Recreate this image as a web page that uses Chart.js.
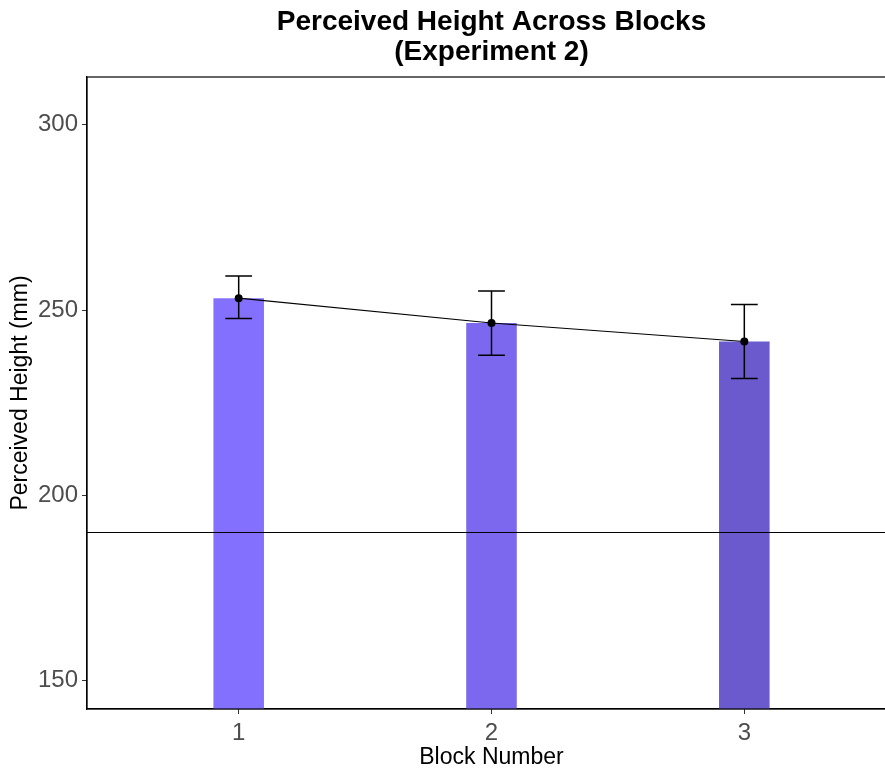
<!DOCTYPE html>
<html><head><meta charset="utf-8">
<script src="https://cdn.jsdelivr.net/npm/chart.js@4/dist/chart.umd.min.js"></script>
<style>
html,body{margin:0;padding:0;background:#fff;overflow:hidden;}
#wrap{width:900px;height:769px;position:relative;}
</style></head><body>
<div id="wrap"><canvas id="c"></canvas></div>
<script>
const blocks = ['1','2','3'];
const blockPositions = [1,2,3];
const meanHeight = [253.2, 246.5, 241.5];
const errorUpper = [259.2, 255.1, 251.5];
const errorLower = [247.7, 237.8, 231.5];
const barColors = ['#8470FF','#7B68EE','#6A5ACD'];
const yTickValues = [150,200,250,300];
const referenceHeight = 190;
const titleLines = ['Perceived Height Across Blocks','(Experiment 2)'];
const xTitle = 'Block Number';
const yTitle = 'Perceived Height (mm)';

const FONT = "'Liberation Sans', Arial, sans-serif";

const decor = {
  id: 'decor',
  afterDatasetDraw(chart, args) {
    if (args.index !== 0) return;
    const ctx = chart.ctx, xs = chart.scales.x, ys = chart.scales.y, a = chart.chartArea;
    ctx.save();
    ctx.strokeStyle = '#000'; ctx.lineWidth = 1.2;
    const yr = Math.round(ys.getPixelForValue(referenceHeight)) + 0.5;
    ctx.beginPath(); ctx.moveTo(a.left, yr); ctx.lineTo(a.right, yr); ctx.stroke();
    ctx.lineWidth = 1.5;
    blockPositions.forEach((p, i) => {
      const x = xs.getPixelForValue(p);
      const half = xs.getPixelForValue(p + 0.053) - x;
      const yt = ys.getPixelForValue(errorUpper[i]);
      const yb = ys.getPixelForValue(errorLower[i]);
      ctx.beginPath();
      ctx.moveTo(x, yt); ctx.lineTo(x, yb);
      ctx.moveTo(x - half, yt); ctx.lineTo(x + half, yt);
      ctx.moveTo(x - half, yb); ctx.lineTo(x + half, yb);
      ctx.stroke();
    });
    ctx.restore();
  },
  afterDraw(chart) {
    const ctx = chart.ctx, a = chart.chartArea;
    ctx.save();
    ctx.strokeStyle = '#000'; ctx.lineWidth = 1.2;
    ctx.strokeRect(a.left, a.top, a.right - a.left, a.bottom - a.top);
    ctx.fillStyle = '#000';
    ctx.font = 'bold 28px ' + FONT;
    ctx.textAlign = 'center'; ctx.textBaseline = 'middle';
    const cx = (a.left + a.right) / 2;
    ctx.fillText(titleLines[0], cx, 22);
    ctx.fillText(titleLines[1], cx, 52);
    ctx.restore();
  }
};

new Chart(document.getElementById('c'), {
  data: {
    datasets: [
      {
        type: 'bar',
        data: blockPositions.map((x, i) => ({x: x, y: meanHeight[i]})),
        backgroundColor: barColors,
        borderWidth: 0,
        barPercentage: 0.2,
        categoryPercentage: 1.0,
        order: 2
      },
      {
        type: 'line',
        data: blockPositions.map((x, i) => ({x: x, y: meanHeight[i]})),
        borderColor: '#000',
        borderWidth: 1.2,
        pointRadius: 4,
        pointBackgroundColor: '#000',
        pointBorderWidth: 0,
        order: 1
      }
    ]
  },
  options: {
    responsive: true,
    maintainAspectRatio: false,
    animation: false,
    layout: { padding: { top: 77, right: 4, left: 0, bottom: 0 } },
    plugins: { legend: { display: false }, tooltip: { enabled: false }, title: { display: false } },
    scales: {
      x: {
        type: 'linear',
        offset: false,
        min: 0.4, max: 3.6,
        afterBuildTicks: s => { s.ticks = blockPositions.map(v => ({value: v})); },
        afterFit: s => { s.height = 60; },
        ticks: {
          callback: v => blocks[blockPositions.indexOf(v)],
          color: '#4D4D4D', padding: 5,
          font: { family: FONT, size: 24 }
        },
        grid: { offset: false, drawOnChartArea: false, drawTicks: true, tickLength: 5, color: '#333', lineWidth: 1 },
        border: { display: true, color: '#000', width: 1.2 },
        title: { display: true, text: xTitle, color: '#000', padding: {top: 0, bottom: 0},
                 font: { family: FONT, size: 23, lineHeight: 1.0 } }
      },
      y: {
        type: 'linear',
        min: 142.3, max: 312.9,
        afterBuildTicks: s => { s.ticks = yTickValues.map(v => ({value: v})); },
        afterFit: s => { s.width = 87; },
        ticks: {
          color: '#4D4D4D', padding: 4,
          font: { family: FONT, size: 24 }
        },
        grid: { drawOnChartArea: false, drawTicks: true, tickLength: 5, color: '#333', lineWidth: 1 },
        border: { display: true, color: '#000', width: 1.2 },
        title: { display: true, text: yTitle, color: '#000', padding: {top: 9, bottom: 0},
                 font: { family: FONT, size: 23, lineHeight: 1.0 } }
      }
    }
  },
  plugins: [decor]
});
</script>
</body></html>
